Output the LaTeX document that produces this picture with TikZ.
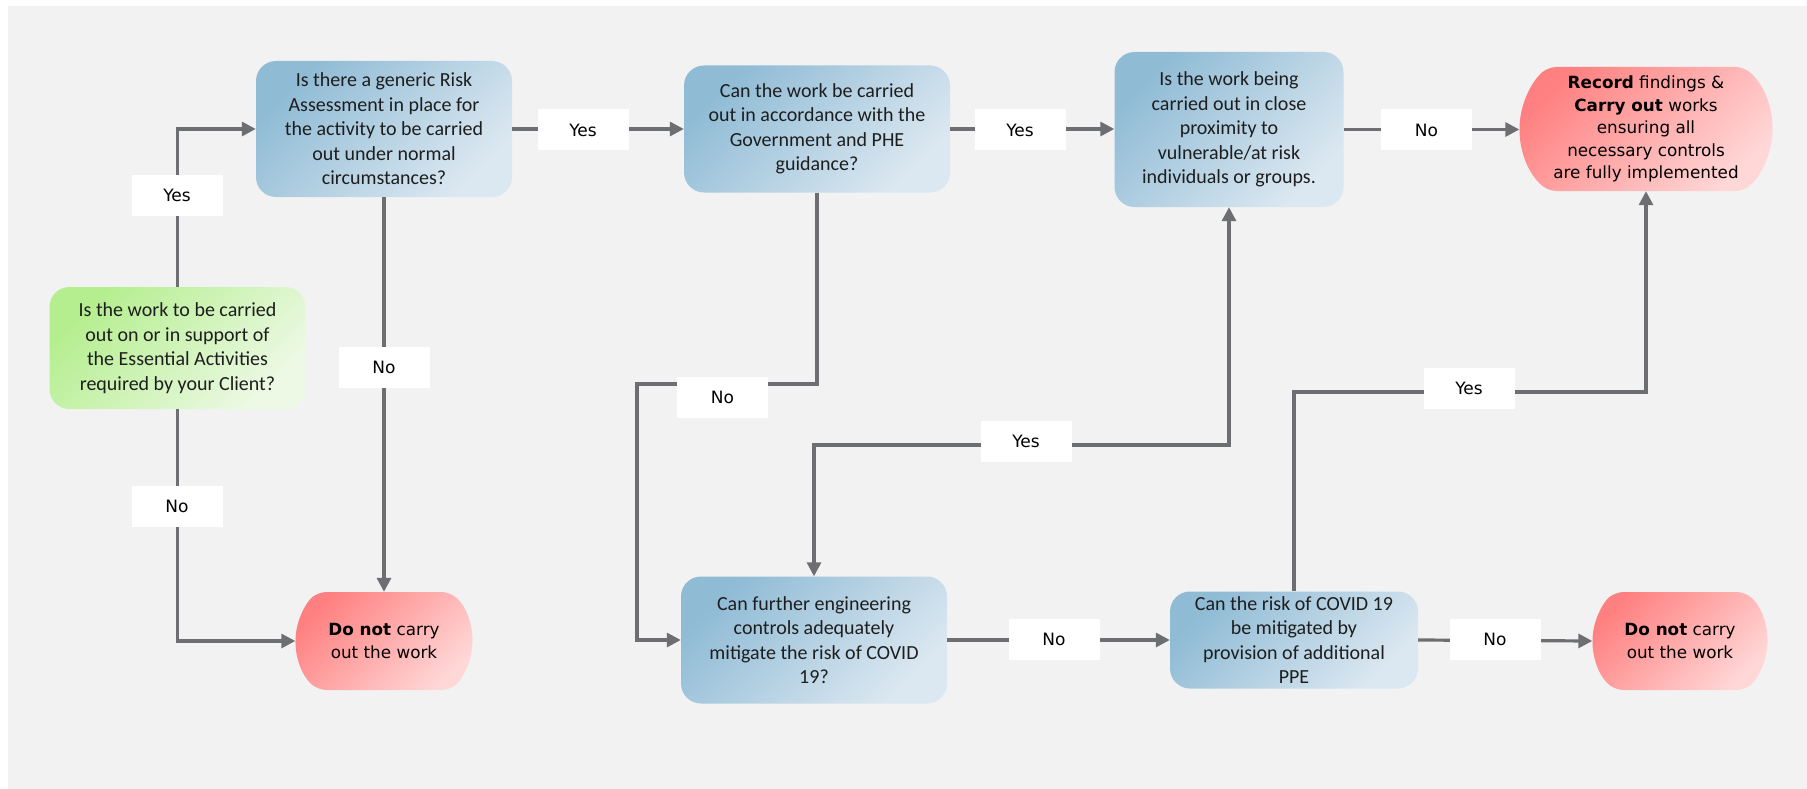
\documentclass[tikz,border=0pt]{standalone}
\usepackage{fontspec}
\setmainfont{Carlito}
\newfontfamily\tahfont{DejaVu Sans}
\usepackage{xcolor}
\usetikzlibrary{shapes.misc, arrows.meta}

\definecolor{bgGrey}{HTML}{F2F2F2}
\definecolor{lineGrey}{HTML}{6D6E71}
\definecolor{blueDark}{HTML}{8FBBD5}
\definecolor{blueLight}{HTML}{DCE8F1}
\definecolor{greenDark}{HTML}{B4EE8E}
\definecolor{greenLight}{HTML}{EDF9E5}
\definecolor{redDark}{HTML}{FF8080}
\definecolor{redLight}{HTML}{FFD7D7}
\definecolor{txtGrey}{HTML}{1E1E1E}

\tikzset{
    shade box/.style 2 args={top color=#1, bottom color=#2, shading angle=45},
    question/.style={rounded corners=20pt, shade box={blueDark}{blueLight}, align=center,
        text=txtGrey, font=\fontsize{20}{24.5}\selectfont, inner sep=2pt},
    startbox/.style={question, shade box={greenDark}{greenLight}},
    stopbox/.style={rounded rectangle, rounded rectangle arc length=100, rounded corners=8pt,
        shade box={redDark}{redLight}, align=center, text=black,
        font=\tahfont\fontsize{16.8}{22.5}\selectfont, inner sep=2pt},
    answer/.style={fill=white, minimum width=91pt, minimum height=41pt,
        font=\tahfont\fontsize{17}{20}\selectfont, inner sep=0pt},
    flow/.style={draw=lineGrey, line width=3.2pt, ->},
}

\begin{document}
\begin{tikzpicture}[x=1pt, y=-1pt, >={Triangle[length=14pt, width=14pt]}]
    % Nền
    \fill[white] (0,0) rectangle (1807,789);
    \fill[bgGrey] (8,6) rectangle (1807,789);
    \useasboundingbox (0,0) rectangle (1807,789);

    % Các ô câu hỏi
    \node[startbox, minimum width=256pt, minimum height=122pt] (essential) at (177.5,348)
        {Is the work to be carried\\ out on or in support of\\ the Essential Activities\\ required by your Client?};
    \node[question, minimum width=256pt, minimum height=136pt] (generic) at (384,129)
        {Is there a generic Risk\\ Assessment in place for\\ the activity to be carried\\ out under normal\\ circumstances?};
    \node[question, minimum width=266pt, minimum height=127pt] (guidance) at (817,129)
        {Can the work be carried\\ out in accordance with the\\ Government and PHE\\ guidance?};
    \node[question, minimum width=229pt, minimum height=155pt] (proximity) at (1229,129.5)
        {Is the work being\\ carried out in close\\ proximity to\\ vulnerable/at risk\\ individuals or groups.};
    \node[question, minimum width=266pt, minimum height=127pt] (engineering) at (814,640)
        {Can further engineering\\ controls adequately\\ mitigate the risk of COVID\\ 19?};
    \node[question, minimum width=248pt, minimum height=97pt] (ppe) at (1294,640)
        {Can the risk of COVID 19\\ be mitigated by\\ provision of additional\\ PPE};

    % Các ô kết thúc
    \node[stopbox, minimum width=257pt, minimum height=124pt] (record) at (1646,129)
        {\textbf{Record} findings \&\\ \textbf{Carry out} works\\ ensuring all\\ necessary controls\\ are fully implemented};
    \node[stopbox, minimum width=181pt, minimum height=98pt] (stopA) at (384,641)
        {\textbf{Do not} carry\\ out the work};
    \node[stopbox, minimum width=179pt, minimum height=98pt] (stopB) at (1680,641)
        {\textbf{Do not} carry\\ out the work};

    % Các điểm gấp khúc
    \coordinate (bendNo) at (637,384);
    \coordinate (bendYes) at (1000,445);
    \coordinate (bendPPE) at (1400,392);

    % Mũi tên
    \draw[flow] (essential.north) |- (generic.west);
    \draw[flow] (essential.south) |- (stopA.west);
    \draw[flow] (generic.south) -- (stopA.north);
    \draw[flow] (generic.east) -- (guidance.west);
    \draw[flow] (guidance.east) -- (guidance.east -| proximity.west);
    \draw[flow] (proximity.east) -- (proximity.east -| record.west);
    \draw[flow] (guidance.south) |- (bendNo) |- (engineering.west);
    \draw[flow, <->] (engineering.north) |- (bendYes) -| (proximity.south);
    \draw[flow] (ppe.north) |- (bendPPE) -| (record.south);
    \draw[flow] (engineering.east) -- (ppe.west);
    \draw[flow] (ppe.east) -- (stopB.west);

    % Nhãn Yes / No
    \node[answer] (yesA) at (177,195) {Yes};
    \node[answer] (noA) at (177,506) {No};
    \node[answer] (noB) at (384,367) {No};
    \node[answer] (yesB) at (583,130) {Yes};
    \node[answer] (yesC) at (1020,130) {Yes};
    \node[answer] (noD) at (1426.5,130) {No};
    \node[answer] (noC) at (722.5,397.5) {No};
    \node[answer] (yesD) at (1026,441) {Yes};
    \node[answer] (yesH) at (1469,388) {Yes};
    \node[answer] (noG) at (1054,639) {No};
    \node[answer] (noH) at (1495,639) {No};
\end{tikzpicture}
\end{document}
